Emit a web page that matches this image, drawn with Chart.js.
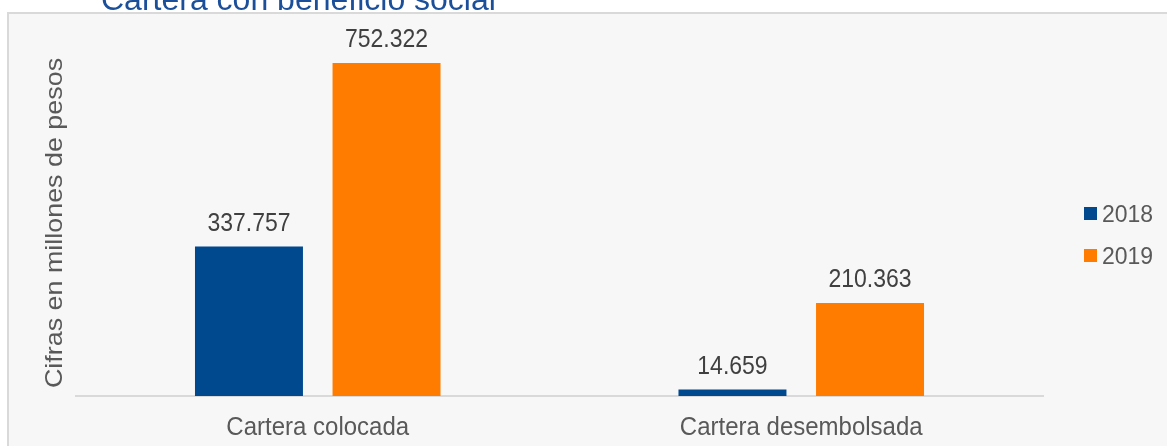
<!DOCTYPE html>
<html lang="es">
<head>
    <meta charset="UTF-8">
    <title>Cartera con beneficio social</title>
    <script src="https://cdn.jsdelivr.net/npm/chart.js"></script>
    <style>
        body {
            margin: 0;
            background: #ffffff;
            overflow: hidden;
        }
        .marco {
            position: absolute;
            left: 7px;
            top: 12px;
            width: 1200px;
            height: 500px;
            border: 2px solid #d9d9d9;
            background: #f7f7f7;
        }
        .lienzo {
            position: absolute;
            left: 0;
            top: 0;
            width: 1167px;
            height: 446px;
        }
    </style>
</head>
<body>
    <div class="marco"></div>
    <div class="lienzo">
        <canvas id="grafico" width="1167" height="446"></canvas>
    </div>

    <script>
        // datos del grafico
        const titulo = 'Cartera con beneficio social';
        const tituloEje = 'Cifras en millones de pesos';
        const categorias = ['Cartera colocada', 'Cartera desembolsada'];
        const anios = ['2018', '2019'];
        const valores2018 = [337.757, 14.659];
        const valores2019 = [752.322, 210.363];
        const colores = ['#00498f', '#ff7c00'];

        const fuente = "'Liberation Sans', Arial, sans-serif";

        // formato con punto y tres decimales, como en el original
        function formato(v) {
            return v.toFixed(3);
        }

        // texto un poco estirado en vertical, como en la imagen original
        function texto(ctx, str, x, y, sy) {
            ctx.save();
            ctx.translate(x, y);
            ctx.scale(1, sy);
            ctx.fillText(str, 0, 0);
            ctx.restore();
        }

        // etiquetas, titulo, leyenda y eje vertical dibujados a mano
        const extras = {
            id: 'extras',
            afterDatasetsDraw(chart) {
                const ctx = chart.ctx;
                const area = chart.chartArea;
                const ejeX = chart.scales.x;
                ctx.save();
                ctx.textBaseline = 'alphabetic';

                // valores encima de las barras
                ctx.fillStyle = '#404040';
                ctx.font = '23px ' + fuente;
                ctx.textAlign = 'center';
                chart.data.datasets.forEach((ds, i) => {
                    chart.getDatasetMeta(i).data.forEach((bar, j) => {
                        texto(ctx, formato(ds.data[j]), bar.x, bar.y - 16, 1.1);
                    });
                });

                // nombres de las categorias
                ctx.fillStyle = '#595959';
                ctx.font = '24px ' + fuente;
                chart.data.labels.forEach((lab, j) => {
                    texto(ctx, lab, ejeX.getPixelForValue(j), 435, 1.06);
                });

                // titulo (cortado arriba)
                ctx.fillStyle = '#1c4f9a';
                ctx.font = '32px ' + fuente;
                ctx.textAlign = 'left';
                ctx.fillText(titulo, 101, 10);

                // titulo del eje y
                ctx.fillStyle = '#595959';
                ctx.font = '24px ' + fuente;
                ctx.textAlign = 'center';
                ctx.translate(62, 223);
                ctx.rotate(-Math.PI / 2);
                ctx.scale(1.12, 1);
                ctx.fillText(tituloEje, 0, 0);
                ctx.restore();

                // leyenda
                ctx.save();
                ctx.font = '23px ' + fuente;
                ctx.textBaseline = 'alphabetic';
                ctx.textAlign = 'left';
                chart.data.datasets.forEach((ds, i) => {
                    const y = 207 + i * 42;
                    ctx.fillStyle = ds.backgroundColor;
                    ctx.fillRect(1084, y, 13, 13);
                    ctx.fillStyle = '#595959';
                    texto(ctx, ds.label, 1102, y + 15, 1.04);
                });
                ctx.restore();
            }
        };

        const ctx = document.getElementById('grafico').getContext('2d');
        const grafico = new Chart(ctx, {
            type: 'bar',
            data: {
                labels: categorias,
                datasets: [{
                    label: anios[0],
                    data: valores2018,
                    backgroundColor: colores[0]
                }, {
                    label: anios[1],
                    data: valores2019,
                    backgroundColor: colores[1]
                }]
            },
            options: {
                responsive: false,
                animation: false,
                events: [],
                layout: {
                    padding: { left: 76, right: 124, top: 42, bottom: 0 }
                },
                categoryPercentage: 0.569,
                barPercentage: 0.785,
                plugins: {
                    legend: { display: false },
                    tooltip: { enabled: false }
                },
                scales: {
                    x: {
                        grid: { display: false, drawTicks: false },
                        border: { display: true, color: '#d9d9d9', width: 2 },
                        ticks: { display: false },
                        afterFit(scale) {
                            scale.height = 50;
                        }
                    },
                    y: {
                        display: false,
                        min: 0,
                        max: 800
                    }
                }
            },
            plugins: [extras]
        });
    </script>
</body>
</html>
